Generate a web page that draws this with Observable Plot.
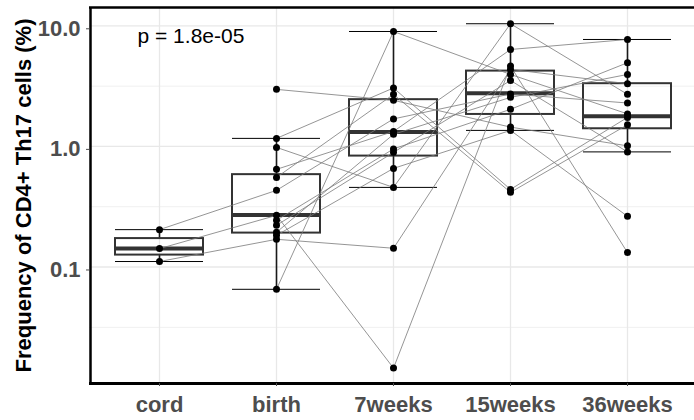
<!DOCTYPE html>
<html>
<head>
<meta charset="utf-8">
<script src="https://cdn.jsdelivr.net/npm/d3@7"></script>
<script src="https://cdn.jsdelivr.net/npm/@observablehq/plot@0.6"></script>
<style>
  html, body { margin: 0; padding: 0; background: white; }
  svg { display: block; }
</style>
</head>
<body>
<div id="chart"></div>
<script>
// ---- data ----
const categories = ["cord", "birth", "7weeks", "15weeks", "36weeks"];
const subjects = ["S1","S2","S3","S4","S5","S6","S7","S8","S9","S10","S11","S12","S13"];
const cord    = [0.204, 0.142, 0.111, null, null, null, null, null, null, null, null, null, null];
const birth   = [0.432, 0.268, 0.1697, 2.97, 0.0653, 1.165, 0.981, 0.645, 0.553, 0.244, 0.2215, 0.194, 0.183];
const weeks7  = [1.69, 0.0145, 0.143, 2.41, 8.97, 3.05, 0.457, 1.33, 2.70, 0.953, 0.892, 1.26, 0.657];
const weeks15 = [2.72, 4.63, 4.35, 1.445, 3.95, 0.44, 10.4, 6.36, 0.416, 2.03, 3.52, 2.55, 1.357];
const weeks36 = [2.29, 0.1316, 3.31, 1.01, 1.86, 1.74, 2.70, 7.70, 1.51, 4.94, 0.90, 3.95, 0.263];

// box-plot statistics per category
const boxQ1      = [0.1255, 0.191, 0.831, 1.84, 1.40];
const boxMedian  = [0.142, 0.270, 1.314, 2.76, 1.78];
const boxQ3      = [0.172, 0.583, 2.44, 4.21, 3.31];
const whiskerLow = [0.111, 0.0653, 0.457, 1.357, 0.90];
const whiskerHigh= [0.204, 1.165, 8.97, 10.4, 7.70];

const yTicks = [0.1, 1, 10];
const yMinor = [0.0316, 0.316, 3.16];
const yDomain = [0.01081, 14.18];
const pLabel = "p = 1.8e-05";
const yTitle = "Frequency of CD4+ Th17 cells (%)";

// ---- tables built from the arrays ----
const seriesByTime = [cord, birth, weeks7, weeks15, weeks36];
const rows = [];
subjects.forEach((s, si) => {
  categories.forEach((c, ci) => {
    const v = seriesByTime[ci][si];
    if (v != null) rows.push({subject: s, time: c, value: v});
  });
});
const boxes = categories.map((c, i) => ({
  time: c, q1: boxQ1[i], med: boxMedian[i], q3: boxQ3[i], lo: whiskerLow[i], hi: whiskerHigh[i]
}));

const font = "Liberation Sans, Arial, Helvetica, sans-serif";

const chart = Plot.plot({
  width: 694,
  height: 420,
  marginLeft: 89,
  marginTop: 7,
  marginBottom: 37,
  marginRight: 0,
  style: {fontFamily: font, background: "white"},
  x: {type: "band", domain: categories, range: [99.35, 685.85], paddingInner: 0.25, paddingOuter: 0.125, align: 0.5},
  y: {type: "log", domain: yDomain, range: [383, 7]},
  marks: [
    // grid
    Plot.ruleY(yMinor, {stroke: "#f0f0f0", strokeWidth: 1}),
    Plot.ruleY(yTicks, {stroke: "#e8e8e8", strokeWidth: 1.3}),
    Plot.ruleX(categories, {x: d => d, stroke: "#e8e8e8", strokeWidth: 1.3}),
    // boxes
    Plot.ruleX(boxes, {x: "time", y1: "q3", y2: "hi", stroke: "#1a1a1a", strokeWidth: 1.6}),
    Plot.ruleX(boxes, {x: "time", y1: "lo", y2: "q1", stroke: "#1a1a1a", strokeWidth: 1.6}),
    Plot.tickY(boxes, {x: "time", y: "hi", stroke: "black", strokeWidth: 1}),
    Plot.tickY(boxes, {x: "time", y: "lo", stroke: "black", strokeWidth: 1}),
    Plot.barY(boxes, {x: "time", y1: "q1", y2: "q3", fill: "none", stroke: "#333", strokeWidth: 2}),
    Plot.tickY(boxes, {x: "time", y: "med", stroke: "#333", strokeWidth: 4}),
    // subject lines and points
    Plot.line(rows, {x: "time", y: "value", z: "subject", stroke: "#7a7a7a", strokeWidth: 0.8}),
    Plot.dot(rows, {x: "time", y: "value", r: 3.5, fill: "black", stroke: "none"}),
    // panel borders
    Plot.ruleY([yDomain[1]], {stroke: "black", strokeWidth: 2.5}),
    Plot.ruleY([yDomain[0]], {stroke: "black", strokeWidth: 2.8}),
    Plot.ruleX([categories[0]], {x: d => d, dx: -69, stroke: "black", strokeWidth: 2.5}),
    // axes
    Plot.axisY(yTicks, {
      tickFormat: d3.format(".1f"), tickSize: 3, tickPadding: 6,
      fontSize: 22, fontWeight: "bold", color: "#4d4d4d", label: null, dy: 3
    }),
    Plot.axisX({
      tickSize: 3, tickPadding: 9.5,
      fontSize: 22, fontWeight: "bold", color: "#4d4d4d", label: null
    }),
    // y title
    Plot.text([yTitle], {
      frameAnchor: "left", dx: -66, rotate: -90, fontSize: 22, fontWeight: "bold",
      fill: "black", textAnchor: "middle", lineAnchor: "middle"
    }),
    // p value
    Plot.text([pLabel], {
      frameAnchor: "top-left", dx: 48, dy: 21, fontSize: 21, fill: "black",
      textAnchor: "start", lineAnchor: "top"
    })
  ]
});
document.getElementById("chart").appendChild(chart);
</script>
</body>
</html>
